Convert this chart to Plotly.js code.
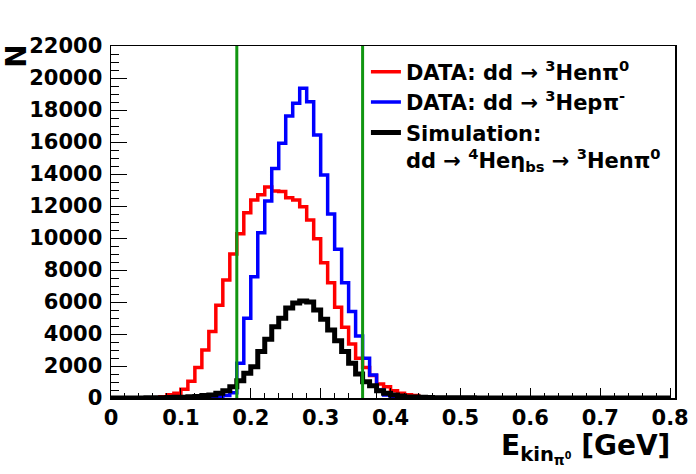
<!DOCTYPE html>
<html>
<head>
<meta charset="utf-8">
<script src="https://cdn.plot.ly/plotly-3.0.1.min.js"></script>
<style>
  html, body { margin: 0; padding: 0; background: #fff; }
  #plot { width: 696px; height: 474px; }
</style>
</head>
<body>
<div id="plot"></div>
<script>
// histogram bins: 0.01 GeV wide, 0 .. 0.8
const binWidth = 0.01;
const nBins = 80;

// DATA: dd -> 3He n pi0 (red)
const dataNeutral = [
  0, 0, 0, 0, 0, 0, 20, 80, 200, 300,
  550, 1050, 1900, 3000, 4150, 5800, 7380, 9000, 10270, 11580,
  12380, 12700, 13190, 12940, 12900, 12520, 12380, 11960, 11125, 9950,
  8460, 7210, 5670, 4420, 3375, 2480, 1900, 1400, 875, 700,
  460, 290, 200, 150, 70, 30, 0, 0, 0, 0,
  0, 0, 0, 0, 0, 0, 0, 0, 0, 0,
  0, 0, 0, 0, 0, 0, 0, 0, 0, 0,
  0, 0, 0, 0, 0, 0, 0, 0, 0, 0
];

// DATA: dd -> 3He p pi- (blue)
const dataCharged = [
  0, 0, 0, 0, 0, 0, 0, 0, 0, 0,
  0, 0, 30, 50, 80, 100, 150, 330, 2170, 4980,
  7580, 10330, 12320, 14350, 15920, 17625, 18420, 19355, 18520, 16440,
  13940, 11500, 9290, 7210, 5400, 3875, 2480, 1440, 500, 190,
  80, 60, 40, 20, 0, 0, 0, 0, 0, 0,
  0, 0, 0, 0, 0, 0, 0, 0, 0, 0,
  0, 0, 0, 0, 0, 0, 0, 0, 0, 0,
  0, 0, 0, 0, 0, 0, 0, 0, 0, 0
];

// Simulation: dd -> 4He eta_bs -> 3He n pi0 (black)
const simulation = [
  0, 0, 0, 0, 0, 10, 20, 20, 30, 40,
  50, 80, 100, 150, 190, 290, 460, 710, 1080, 1540,
  1960, 2900, 3670, 4460, 4980, 5620, 5940, 6060, 6000, 5500,
  4920, 4250, 3580, 2900, 2170, 1500, 1020, 770, 460, 290,
  190, 120, 70, 60, 40, 30, 20, 20, 10, 10,
  10, 10, 0, 0, 0, 0, 0, 0, 0, 0,
  0, 0, 0, 0, 0, 0, 0, 0, 0, 0,
  0, 0, 0, 0, 0, 0, 0, 0, 0, 0
];

// cut window
const cutLow = 0.18;
const cutHigh = 0.36;

const xTickVals = [0, 0.1, 0.2, 0.3, 0.4, 0.5, 0.6, 0.7, 0.8];
const xTickText = ["0", "0.1", "0.2", "0.3", "0.4", "0.5", "0.6", "0.7", "0.8"];
const yTickVals = [0, 2000, 4000, 6000, 8000, 10000, 12000, 14000, 16000, 18000, 20000, 22000];
const yTickText = ["0", "2000", "4000", "6000", "8000", "10000", "12000", "14000", "16000", "18000", "20000", "22000"];

// bin left edges plus the closing edge, for hv steps
function stepXY(values) {
  let x = [], y = [];
  for (let i = 0; i < nBins; i++) {
    x.push(+(i * binWidth).toFixed(3));
    y.push(values[i]);
  }
  x.push(+(nBins * binWidth).toFixed(3));
  y.push(values[nBins - 1]);
  return { x: x, y: y };
}

const font = "DejaVu Sans, Arial, sans-serif";

function histTrace(values, color, width, name) {
  let xy = stepXY(values);
  return {
    x: xy.x,
    y: xy.y,
    type: "scatter",
    mode: "lines",
    line: { shape: "hv", color: color, width: width },
    name: name,
  };
}

var traces = [
  histTrace(dataNeutral, "#ff0000", 3.5, "DATA: dd \u2192 <sup>3</sup>Hen\u03c0<sup>0</sup>"),
  histTrace(dataCharged, "#0000ff", 3.5, "DATA: dd \u2192 <sup>3</sup>Hep\u03c0<sup>-</sup>"),
  histTrace(simulation, "#000000", 5, "Simulation:<br>dd \u2192 <sup>4</sup>He\u03b7<sub>bs</sub> \u2192 <sup>3</sup>Hen\u03c0<sup>0</sup>"),
];

var cutLines = [cutLow, cutHigh].map((c) => ({
  type: "line",
  xref: "x",
  yref: "paper",
  x0: c, x1: c,
  y0: 0, y1: 1,
  line: { color: "#119611", width: 3 },
}));

var layout = {
  width: 696,
  height: 474,
  paper_bgcolor: "white",
  plot_bgcolor: "white",
  margin: { l: 111, r: 21, t: 46, b: 76, pad: 0 },
  showlegend: true,
  xaxis: {
    range: [0, 0.807],
    tickvals: xTickVals,
    ticktext: xTickText,
    ticks: "inside",
    ticklen: 10,
    tickwidth: 1,
    tickcolor: "black",
    minor: { dtick: 0.02, ticks: "inside", ticklen: 5, tickcolor: "black" },
    showgrid: false,
    zeroline: false,
    showline: true,
    linecolor: "black",
    linewidth: 1.5,
    mirror: true,
    tickfont: { family: font, size: 21, weight: "bold", color: "black" },
  },
  yaxis: {
    range: [0, 22000],
    tickvals: yTickVals,
    ticktext: yTickText,
    ticks: "inside",
    ticklen: 16,
    tickwidth: 1,
    tickcolor: "black",
    minor: { dtick: 500, ticks: "inside", ticklen: 8, tickcolor: "black" },
    showgrid: false,
    zeroline: false,
    showline: true,
    linecolor: "black",
    linewidth: 1.5,
    mirror: true,
    ticklabelstandoff: 3,
    tickfont: { family: font, size: 21, weight: "bold", color: "black" },
  },
  legend: {
    x: 0.452,
    y: 0.984,
    xanchor: "left",
    yanchor: "top",
    bgcolor: "rgba(0,0,0,0)",
    borderwidth: 0,
    itemwidth: 30,
    valign: "top",
    tracegroupgap: 0,
    font: { family: font, size: 21, weight: "bold", color: "black" },
  },
  shapes: cutLines,
  annotations: [
    {
      text: "N",
      xref: "paper", yref: "paper",
      x: -0.167, y: 0.972,
      xanchor: "center", yanchor: "middle",
      textangle: -90,
      showarrow: false,
      font: { family: font, size: 28, weight: "bold", color: "black" },
    },
    {
      text: "E<sub>kin<sub>\u03c0<sup>0</sup></sub></sub> [GeV]",
      xref: "paper", yref: "paper",
      x: 0.995, y: -0.082,
      xanchor: "right", yanchor: "top",
      showarrow: false,
      font: { family: font, size: 28, weight: "bold", color: "black" },
    },
  ],
};

Plotly.newPlot("plot", traces, layout, { staticPlot: true });
</script>
</body>
</html>
